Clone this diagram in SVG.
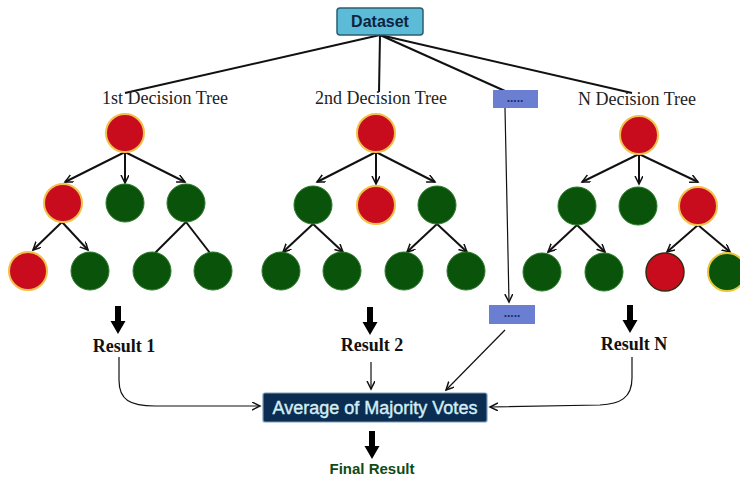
<svg xmlns="http://www.w3.org/2000/svg" width="740" height="477" viewBox="0 0 740 477">
<style>
.red{fill:#c90b1e;stroke:#f1c24a;stroke-width:2}
.grn{fill:#0a530b;stroke:#2c7a2a;stroke-width:1}
.ln{stroke:#111;stroke-width:2;fill:none}
.ar{stroke:#111;stroke-width:2;fill:none;marker-end:url(#oa)}
.thin{stroke:#111;stroke-width:1.2;fill:none;marker-end:url(#oa)}
.tl{font-family:"Liberation Serif",serif;font-size:18px;fill:#222;text-anchor:middle}
.rl{font-family:"Liberation Serif",serif;font-size:18px;font-weight:bold;fill:#111;text-anchor:middle}
.dots{fill:#6a7fd2}
.dt{font-family:"Liberation Sans",sans-serif;font-size:12px;font-weight:bold;fill:#1a2a6a;text-anchor:middle}
</style>
<defs>
<marker id="oa" markerWidth="10" markerHeight="10" refX="8" refY="4" orient="auto" markerUnits="userSpaceOnUse">
<path d="M0,0 L8,4 L0,8" fill="none" stroke="#111" stroke-width="1.5"/>
</marker>
<path id="big" d="M-3,-28 H3 V-13 H7.5 L0,0 L-7.5,-13 H-3 Z" fill="#000"/>
</defs>
<rect width="740" height="477" fill="#fff"/>

<g id="connectors">
<path class="ln" d="M380,35 L125,93"/>
<path class="ln" d="M380,35 L379,92"/>
<path class="ln" d="M380,35 L505,91"/>
<path class="ln" d="M380,35 L632,93"/>
<path class="thin" d="M505,108 L509,302"/>
<path class="thin" d="M505,330 L446,390"/>
<path class="thin" d="M119,357 L119,380 C119,400 130,406 155,406 L260,406"/>
<path class="thin" d="M632,357 L632,378 C632,398 620,404 600,405 L490,407"/>
<path class="thin" d="M371,362 L371,389"/>
<use href="#big" transform="translate(118,334)"/>
<use href="#big" transform="translate(370,335)"/>
<use href="#big" transform="translate(630,333)"/>
<use href="#big" transform="translate(372,459)"/>
<!-- tree 1 -->
<path class="ar" d="M125,152 L65,182"/>
<path class="ar" d="M125,152 L125,183"/>
<path class="ar" d="M125,152 L185,182"/>
<path class="ar" d="M62,222 L33,250"/>
<path class="ar" d="M62,222 L88,250"/>
<path class="ln" d="M186,222 L155,253"/>
<path class="ln" d="M186,222 L210,253"/>
<!-- tree 2 -->
<path class="ar" d="M376,152 L317,182"/>
<path class="ar" d="M376,152 L376,184"/>
<path class="ar" d="M376,152 L435,182"/>
<path class="ar" d="M313,224 L283,252"/>
<path class="ar" d="M313,224 L343,252"/>
<path class="ar" d="M437,224 L407,252"/>
<path class="ar" d="M437,224 L467,252"/>
<!-- tree N -->
<path class="ar" d="M639,154 L582,182"/>
<path class="ar" d="M639,154 L639,184"/>
<path class="ar" d="M639,154 L698,182"/>
<path class="ar" d="M577,225 L548,252"/>
<path class="ar" d="M577,225 L605,252"/>
<path class="ar" d="M698,225 L667,252"/>
<path class="ar" d="M698,225 L730,252"/>
</g>

<g id="dataset">
<rect x="337" y="8" width="86" height="27" rx="3" fill="#5cbcd8" stroke="#2a5d73" stroke-width="1.5"/>
<text x="380" y="27" font-family="Liberation Sans,sans-serif" font-size="16" font-weight="bold" fill="#0d2440" text-anchor="middle">Dataset</text>
</g>

<g id="tree1">
<text class="tl" x="165" y="104">1st Decision Tree</text>
<circle class="red" cx="125" cy="133" r="19"/>
<circle class="red" cx="63" cy="203" r="19"/>
<circle class="grn" cx="125" cy="203" r="19"/>
<circle class="grn" cx="186" cy="203" r="19"/>
<circle class="red" cx="28" cy="271" r="19"/>
<circle class="grn" cx="90" cy="271" r="19"/>
<circle class="grn" cx="152" cy="271" r="19"/>
<circle class="grn" cx="213" cy="271" r="19"/>
</g>

<g id="tree2">
<text class="tl" x="381" y="104">2nd Decision Tree</text>
<circle class="red" cx="376" cy="133" r="19"/>
<circle class="grn" cx="313" cy="205" r="19"/>
<circle class="red" cx="376" cy="205" r="19"/>
<circle class="grn" cx="437" cy="205" r="19"/>
<circle class="grn" cx="281" cy="271" r="19"/>
<circle class="grn" cx="342" cy="271" r="19"/>
<circle class="grn" cx="404" cy="271" r="19"/>
<circle class="grn" cx="466" cy="271" r="19"/>
</g>

<g id="dots1">
<rect class="dots" x="493" y="90" width="45" height="18"/>
<text class="dt" x="515" y="102">.....</text>
</g>

<g id="treeN">
<text class="tl" x="637" y="105">N Decision Tree</text>
<circle class="red" cx="639" cy="135" r="19"/>
<circle class="grn" cx="577" cy="206" r="19"/>
<circle class="grn" cx="638" cy="206" r="19"/>
<circle class="red" cx="698" cy="206" r="19"/>
<circle class="grn" cx="542" cy="272" r="19"/>
<circle class="grn" cx="604" cy="272" r="19"/>
<circle cx="665" cy="272" r="19" fill="#c90b1e" stroke="#3a2a10" stroke-width="1.5"/>
<circle cx="727" cy="272" r="19" fill="#0a530b" stroke="#e8c83a" stroke-width="2"/>
</g>

<g id="dots2">
<rect class="dots" x="489" y="305" width="46" height="19"/>
<text class="dt" x="512" y="317">.....</text>
</g>

<g id="result1"><text class="rl" x="124" y="352">Result 1</text></g>
<g id="result2"><text class="rl" x="372" y="351">Result 2</text></g>
<g id="resultN"><text class="rl" x="634" y="350">Result N</text></g>

<g id="average">
<rect x="263" y="393" width="224" height="29" rx="2" fill="#0c2d52" stroke="#7d9bb8" stroke-width="1.2"/>
<text x="375" y="414" font-family="Liberation Sans,sans-serif" font-size="18" fill="#d3eef6" stroke="#d3eef6" stroke-width="0.4" text-anchor="middle">Average of Majority Votes</text>
</g>

<g id="final">
<text x="372" y="474" font-family="Liberation Sans,sans-serif" font-size="15" font-weight="bold" fill="#0f4a12" text-anchor="middle">Final Result</text>
</g>
</svg>
